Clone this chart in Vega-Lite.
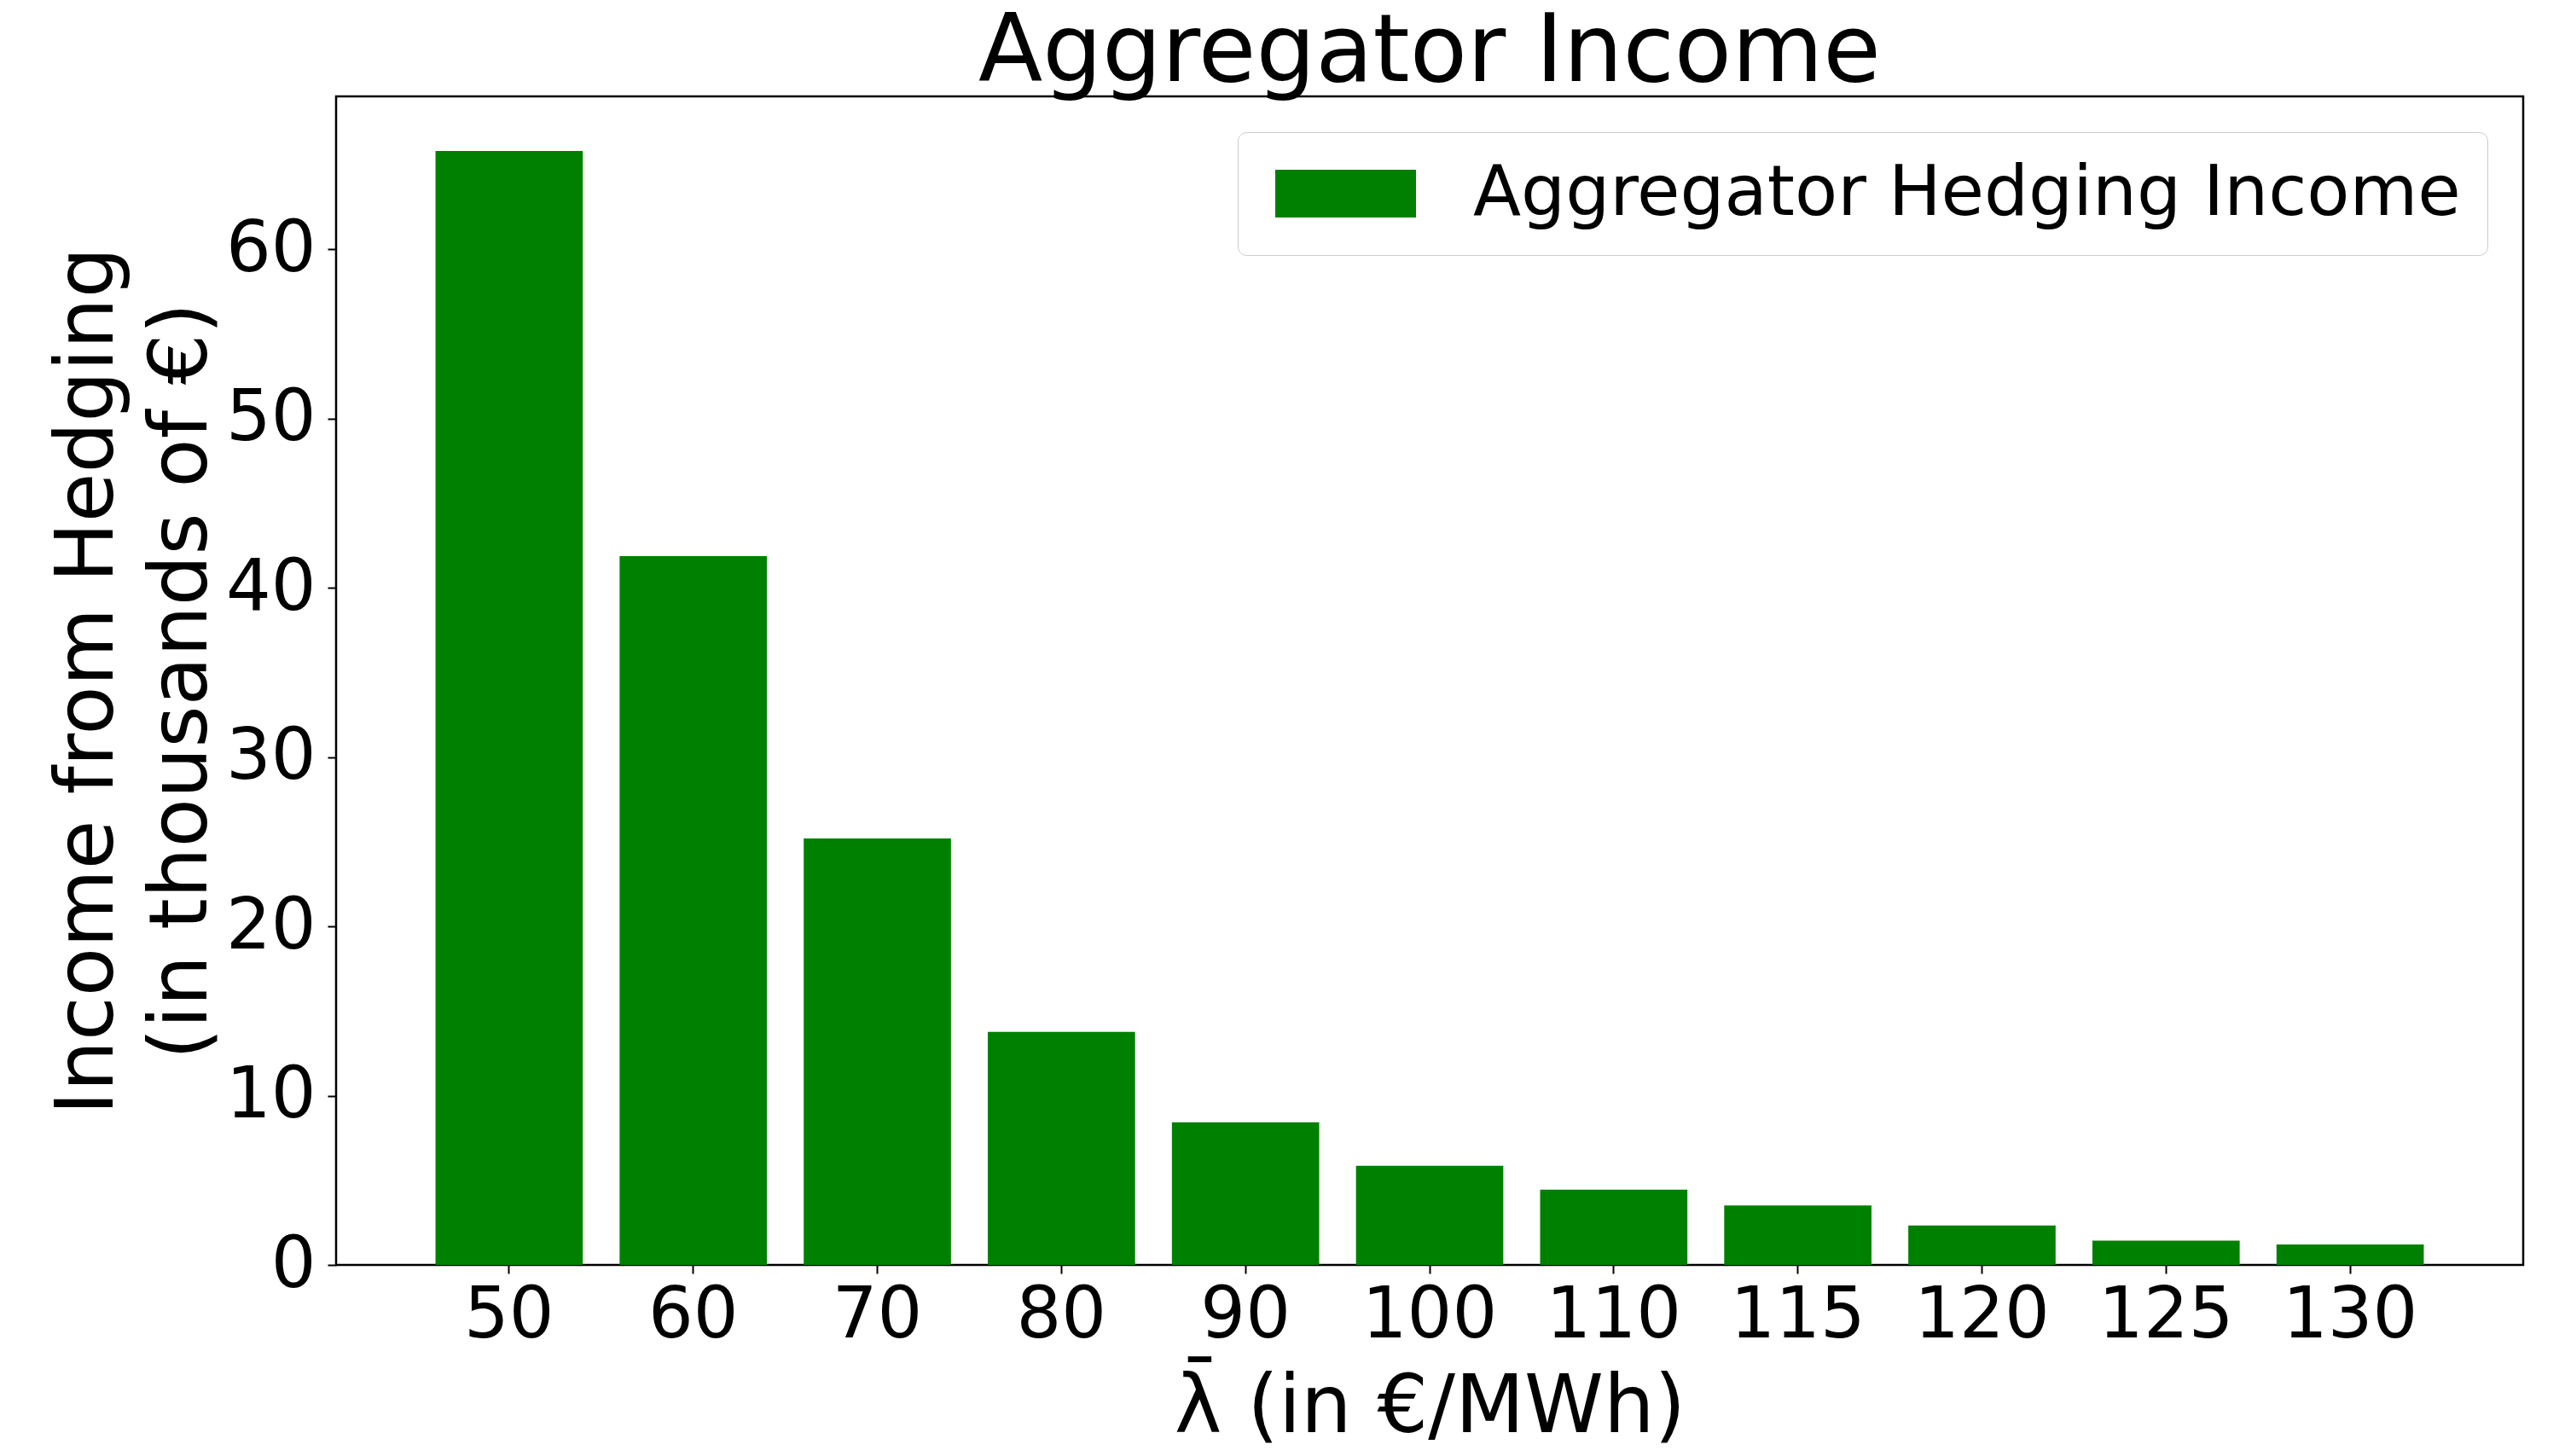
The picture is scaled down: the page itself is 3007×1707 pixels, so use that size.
{
  "$schema": "https://vega.github.io/schema/vega-lite/v6.json",
  "width": 2564,
  "height": 1370,
  "autosize": "none",
  "padding": {"left": 394, "top": 113, "right": 49, "bottom": 224},
  "background": "white",
  "title": {
    "text": "Aggregator Income",
    "fontSize": 110,
    "fontWeight": "normal",
    "color": "black",
    "anchor": "middle",
    "offset": -5
  },
  "data": {
    "values": [
      {"lambda": "50", "income": 65.79, "series": "Aggregator Hedging Income"},
      {"lambda": "60", "income": 41.86, "series": "Aggregator Hedging Income"},
      {"lambda": "70", "income": 25.19, "series": "Aggregator Hedging Income"},
      {"lambda": "80", "income": 13.77, "series": "Aggregator Hedging Income"},
      {"lambda": "90", "income": 8.42, "series": "Aggregator Hedging Income"},
      {"lambda": "100", "income": 5.86, "series": "Aggregator Hedging Income"},
      {"lambda": "110", "income": 4.44, "series": "Aggregator Hedging Income"},
      {"lambda": "115", "income": 3.51, "series": "Aggregator Hedging Income"},
      {"lambda": "120", "income": 2.33, "series": "Aggregator Hedging Income"},
      {"lambda": "125", "income": 1.44, "series": "Aggregator Hedging Income"},
      {"lambda": "130", "income": 1.21, "series": "Aggregator Hedging Income"}
    ]
  },
  "mark": {"type": "bar"},
  "encoding": {
    "x": {
      "field": "lambda",
      "type": "ordinal",
      "sort": null,
      "scale": {"paddingInner": 0.2, "paddingOuter": 0.54},
      "axis": {
        "title": "λ̄ (in €/MWh)",
        "labelAngle": 0,
        "labelPadding": 8,
        "titlePadding": 20
      }
    },
    "y": {
      "field": "income",
      "type": "quantitative",
      "scale": {"domain": [0, 69.02], "nice": false},
      "axis": {
        "title": ["Income from Hedging", "(in thousands of €)"],
        "values": [0, 10, 20, 30, 40, 50, 60],
        "labelPadding": 14,
        "titlePadding": 3,
        "titleLineHeight": 110
      }
    },
    "color": {
      "field": "series",
      "type": "nominal",
      "scale": {"range": ["#008000"]},
      "legend": {
        "title": null,
        "orient": "top-right",
        "offset": 42,
        "strokeColor": "#cccccc",
        "fillColor": "white",
        "cornerRadius": 10,
        "padding": 31,
        "labelFontSize": 82,
        "labelColor": "black",
        "labelLimit": 0,
        "labelOffset": 163,
        "symbolType": "M-1,-1H4.893V1H-1Z",
        "symbolSize": 3136,
        "symbolStrokeWidth": 0
      }
    }
  },
  "config": {
    "font": "DejaVu Sans",
    "view": {"stroke": "black", "strokeWidth": 2.5},
    "axis": {
      "domain": false,
      "grid": false,
      "ticks": true,
      "tickColor": "black",
      "tickSize": 10,
      "tickWidth": 2,
      "labelFont": "DejaVu Sans",
      "labelFontSize": 83,
      "labelColor": "black",
      "titleFont": "DejaVu Sans",
      "titleFontSize": 94,
      "titleFontWeight": "normal",
      "titleColor": "black"
    },
    "legend": {"labelFont": "DejaVu Sans"}
  }
}
